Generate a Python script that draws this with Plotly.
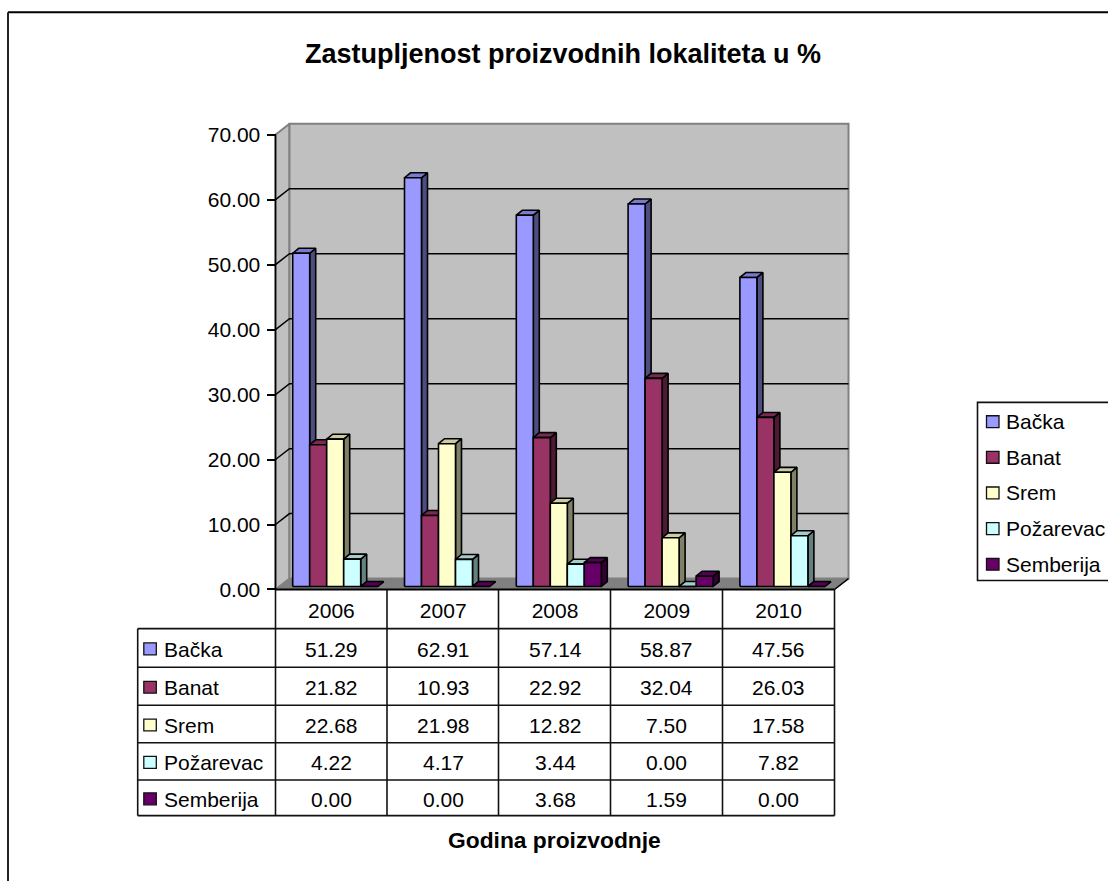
import plotly.graph_objects as go

years = ["2006", "2007", "2008", "2009", "2010"]
series_names = ["Bačka", "Banat", "Srem", "Požarevac", "Semberija"]
backa = [51.29, 62.91, 57.14, 58.87, 47.56]
banat = [21.82, 10.93, 22.92, 32.04, 26.03]
srem = [22.68, 21.98, 12.82, 7.50, 17.58]
pozarevac = [4.22, 4.17, 3.44, 0.00, 7.82]
semberija = [0.00, 0.00, 3.68, 1.59, 0.00]
y_ticks = [0, 10, 20, 30, 40, 50, 60, 70]

series_values = [backa, banat, srem, pozarevac, semberija]
front_colors = ["#9999FF", "#993366", "#FFFFCC", "#CCFFFF", "#660066"]
top_colors = ["#7A7ACC", "#7A2952", "#CCCCA3", "#A3CCCC", "#520052"]
side_colors = ["#4D4D80", "#4D1A33", "#808066", "#668080", "#330033"]

FONT = "Liberation Sans"
WIDTH, HEIGHT = 1108, 890

# pixel layout of the Excel style 3D chart
AXIS_LEFT, AXIS_BOTTOM = 275.5, 595.5
CAT_PX, UNIT_PX = 111.8, 6.564
TABLE_LEFT, TABLE_RIGHT = 137.7, 834.5
ROW_LINES = [635, 674, 712.5, 750.3, 788, 824]
COL_LINES = [275.5, 387, 498.5, 610.5, 722.5, 834.5]


def paper_x(px):
    return px / WIDTH


def paper_y(px):
    return 1 - px / HEIGHT


def data_x(px):
    return (px - AXIS_LEFT) / CAT_PX


def data_y(px):
    return (AXIS_BOTTOM - px) / UNIT_PX


# depth of the walls and of the bars, in axis units
wall_dx, wall_dy = 14 / CAT_PX, 11 / UNIT_PX
bar_dx, bar_dy = 6 / CAT_PX, 5 / UNIT_PX
bar_w = 17 / CAT_PX
bar_start = 17.2 / CAT_PX
bar_base = 3 / UNIT_PX

fig = go.Figure()


def face(xs, ys, fill, line="black", width=1.6):
    fig.add_trace(
        go.Scatter(
            x=xs,
            y=ys,
            mode="lines",
            fill="toself",
            fillcolor=fill,
            line=dict(color=line, width=width),
            hoverinfo="skip",
            showlegend=False,
        )
    )


def stroke(xs, ys, color="black", width=1.5):
    fig.add_trace(
        go.Scatter(
            x=xs,
            y=ys,
            mode="lines",
            line=dict(color=color, width=width),
            hoverinfo="skip",
            showlegend=False,
        )
    )


n_cat = len(years)
top = y_ticks[-1]

# walls and floor
face(
    [0, wall_dx, wall_dx, 0, 0],
    [0, wall_dy, top + wall_dy, top, 0],
    "#C0C0C0",
    "#808080",
    2,
)
face(
    [wall_dx, n_cat + wall_dx, n_cat + wall_dx, wall_dx, wall_dx],
    [wall_dy, wall_dy, top + wall_dy, top + wall_dy, wall_dy],
    "#C0C0C0",
    "#808080",
    2,
)
for tick in y_ticks[1:-1]:
    stroke([0, wall_dx, n_cat + wall_dx], [tick, tick + wall_dy, tick + wall_dy])
face(
    [0, wall_dx, n_cat + wall_dx, n_cat, 0],
    [0, wall_dy, wall_dy, 0, 0],
    "#808080",
    "#808080",
    1,
)
stroke([n_cat, n_cat + wall_dx], [0, wall_dy])
stroke([0, 0], [0, top], width=1.6)

# bars, left to right so the later front covers the earlier side
for c in range(n_cat):
    for s, values in enumerate(series_values):
        v = values[c] + bar_base
        x0 = c + bar_start + s * bar_w
        x1 = x0 + bar_w
        b = bar_base
        face(
            [x1, x1 + bar_dx, x1 + bar_dx, x1, x1],
            [b, b + bar_dy, v + bar_dy, v, b],
            side_colors[s],
        )
        face(
            [x0, x0 + bar_dx, x1 + bar_dx, x1, x0],
            [v, v + bar_dy, v + bar_dy, v, v],
            top_colors[s],
        )
        face([x0, x1, x1, x0, x0], [b, b, v, v, b], front_colors[s])

shapes = []
annotations = []


def rule(x0, y0, x1, y1, color="#111111", width=1.6):
    shapes.append(
        dict(
            type="line",
            xref="paper",
            yref="paper",
            x0=paper_x(x0),
            y0=paper_y(y0),
            x1=paper_x(x1),
            y1=paper_y(y1),
            line=dict(color=color, width=width),
        )
    )


def swatch(left, mid, color):
    shapes.append(
        dict(
            type="rect",
            xref="paper",
            yref="paper",
            x0=paper_x(left),
            y0=paper_y(mid + 6),
            x1=paper_x(left + 12.5),
            y1=paper_y(mid - 6),
            fillcolor=color,
            line=dict(color="#111111", width=1.3),
        )
    )


def label(text, x, y, size=21, anchor="left", bold=False, xref="paper"):
    annotations.append(
        dict(
            text=f"<b>{text}</b>" if bold else text,
            xref=xref,
            yref="paper",
            x=x,
            y=paper_y(y),
            xanchor=anchor,
            yanchor="middle",
            showarrow=False,
            font=dict(family=FONT, size=size, color="black"),
        )
    )


# outer frame, only the top and left edges fall inside the picture
rule(8, 12.5, WIDTH, 12.5, "black", 2)
rule(8, 12.5, 8, HEIGHT, "#222222", 2)

# data table
rule(AXIS_LEFT, AXIS_BOTTOM, TABLE_RIGHT, AXIS_BOTTOM, "black", 1.8)
for y in ROW_LINES:
    rule(TABLE_LEFT, y, TABLE_RIGHT, y)
rule(TABLE_LEFT, ROW_LINES[0], TABLE_LEFT, ROW_LINES[-1])
for x in COL_LINES:
    rule(x, AXIS_BOTTOM, x, ROW_LINES[-1])

for s, name in enumerate(series_names):
    mid = (ROW_LINES[s] + ROW_LINES[s + 1]) / 2
    swatch(143.8, mid + 1, front_colors[s])
    label(name, paper_x(161.5), mid + 1.5)
    for c, value in enumerate(series_values[s]):
        label(f"{value:.2f}", c + 0.5, mid + 1.5, anchor="center", xref="x")

# legend
shapes.append(
    dict(
        type="rect",
        xref="paper",
        yref="paper",
        x0=paper_x(977.5),
        y0=paper_y(586.5),
        x1=paper_x(1125),
        y1=paper_y(406.5),
        fillcolor="white",
        line=dict(color="#111111", width=1.6),
    )
)
for s, name in enumerate(series_names):
    mid = 426 + s * 36
    swatch(986.5, mid, front_colors[s])
    label(name, paper_x(1003.5), mid)

label(
    "Zastupljenost proizvodnih lokaliteta u %",
    paper_x(563),
    55,
    size=27,
    anchor="center",
    bold=True,
)
label(
    "Godina proizvodnje",
    paper_x(554),
    849,
    size=22.8,
    anchor="center",
    bold=True,
)

fig.update_layout(
    width=WIDTH,
    height=HEIGHT,
    margin=dict(l=0, r=0, t=0, b=0),
    paper_bgcolor="white",
    plot_bgcolor="rgba(0,0,0,0)",
    showlegend=False,
    shapes=shapes,
    annotations=annotations,
    font=dict(family=FONT, size=21, color="black"),
    xaxis=dict(
        domain=[paper_x(270), paper_x(852)],
        range=[data_x(270), data_x(852)],
        anchor="free",
        position=paper_y(AXIS_BOTTOM),
        tickmode="array",
        tickvals=[c + 0.5 for c in range(n_cat)],
        ticktext=years,
        ticks="outside",
        ticklen=2,
        tickcolor="rgba(0,0,0,0)",
        showgrid=False,
        zeroline=False,
        showline=False,
    ),
    yaxis=dict(
        domain=[paper_y(598), paper_y(122)],
        range=[data_y(598), data_y(122)],
        anchor="free",
        position=paper_x(AXIS_LEFT),
        tickmode="array",
        tickvals=y_ticks,
        tickformat=".2f",
        ticks="outside",
        ticklen=9,
        tickwidth=1.6,
        tickcolor="black",
        ticklabelstandoff=2,
        showgrid=False,
        zeroline=False,
        showline=False,
    ),
)

fig.write_html(
    "out.html",
    config={"displayModeBar": False},
    post_script="document.body.style.margin='0';document.body.style.overflow='hidden';",
)
